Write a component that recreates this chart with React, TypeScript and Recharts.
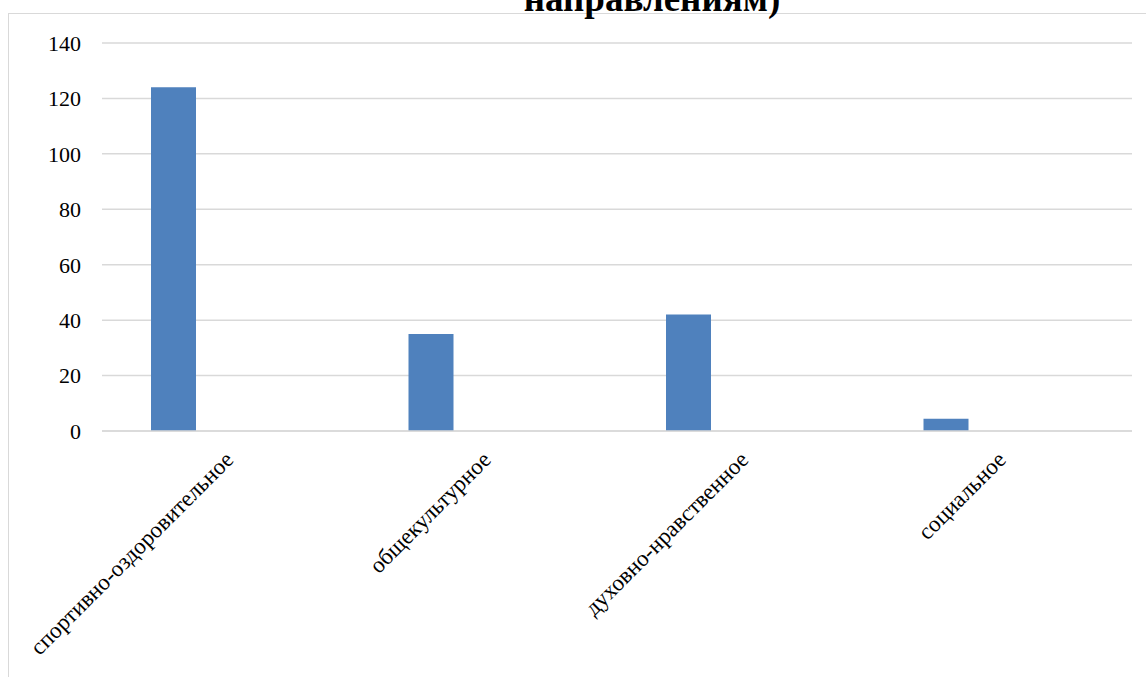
import React from "react";
import { BarChart, Bar, XAxis, YAxis, CartesianGrid } from "recharts";

const categories = [
  "спортивно-оздоровительное",
  "общекультурное",
  "духовно-нравственное",
  "социальное",
];
const series1 = [124, 35, 42, 4.4];
const series2 = [0, 0, 0, 0];
const yTicks = [0, 20, 40, 60, 80, 100, 120, 140];
const titleText = "направлениям)";

const data = categories.map((c, i) => ({ name: c, s1: series1[i], s2: series2[i] }));

const FONT = "'Times New Roman', 'Liberation Serif', serif";

const XTick = (props: any) => {
  const { x, y, payload } = props;
  return (
    <g transform={`translate(${x + 4},${y + 30})`}>
      <text
        x={0}
        y={0}
        textAnchor="end"
        transform="rotate(-45)"
        style={{ fontFamily: FONT, fontSize: 23 }}
        fill="#000"
      >
        {payload.value}
      </text>
    </g>
  );
};

export default function App() {
  return (
    <div
      style={{
        position: "fixed",
        left: 0,
        top: 0,
        width: 1146,
        height: 677,
        overflow: "hidden",
        background: "#fff",
        fontFamily: FONT,
      }}
    >
      <div
        style={{
          position: "absolute",
          left: 8,
          top: 13,
          width: 1300,
          height: 900,
          borderLeft: "1px solid #d9d9d9",
          borderTop: "1px solid #d9d9d9",
        }}
      />
      <svg
        width={1146}
        height={60}
        style={{ position: "absolute", left: 0, top: 0 }}
      >
        <text
          x={652}
          y={11}
          textAnchor="middle"
          style={{ fontFamily: FONT, fontSize: 37, fontWeight: "bold" }}
          fill="#000"
        >
          {titleText}
        </text>
      </svg>
      <div style={{ position: "absolute", left: 0, top: 0 }}>
        <BarChart
          width={1146}
          height={677}
          data={data}
          margin={{ top: 43, right: 14, left: 0, bottom: 0 }}
          barGap={69}
          style={{ fontFamily: FONT }}
        >
          <CartesianGrid vertical={false} stroke="#d9d9d9" strokeWidth={1.5} />
          <XAxis
            dataKey="name"
            height={246}
            interval={0}
            tickLine={false}
            tickSize={0}
            tickMargin={0}
            axisLine={{ stroke: "#d9d9d9", strokeWidth: 1.5 }}
            tick={<XTick />}
          />
          <YAxis
            width={102}
            domain={[0, 140]}
            ticks={yTicks}
            axisLine={false}
            tickLine={false}
            tickSize={0}
            tickMargin={21}
            tick={{ fontFamily: FONT, fontSize: 22, fill: "#000", style: { fontFamily: FONT } }}
          />
          <Bar dataKey="s1" fill="#4f81bd" barSize={45} isAnimationActive={false} />
          <Bar dataKey="s2" fill="#c0504d" barSize={45} isAnimationActive={false} />
        </BarChart>
      </div>
    </div>
  );
}
